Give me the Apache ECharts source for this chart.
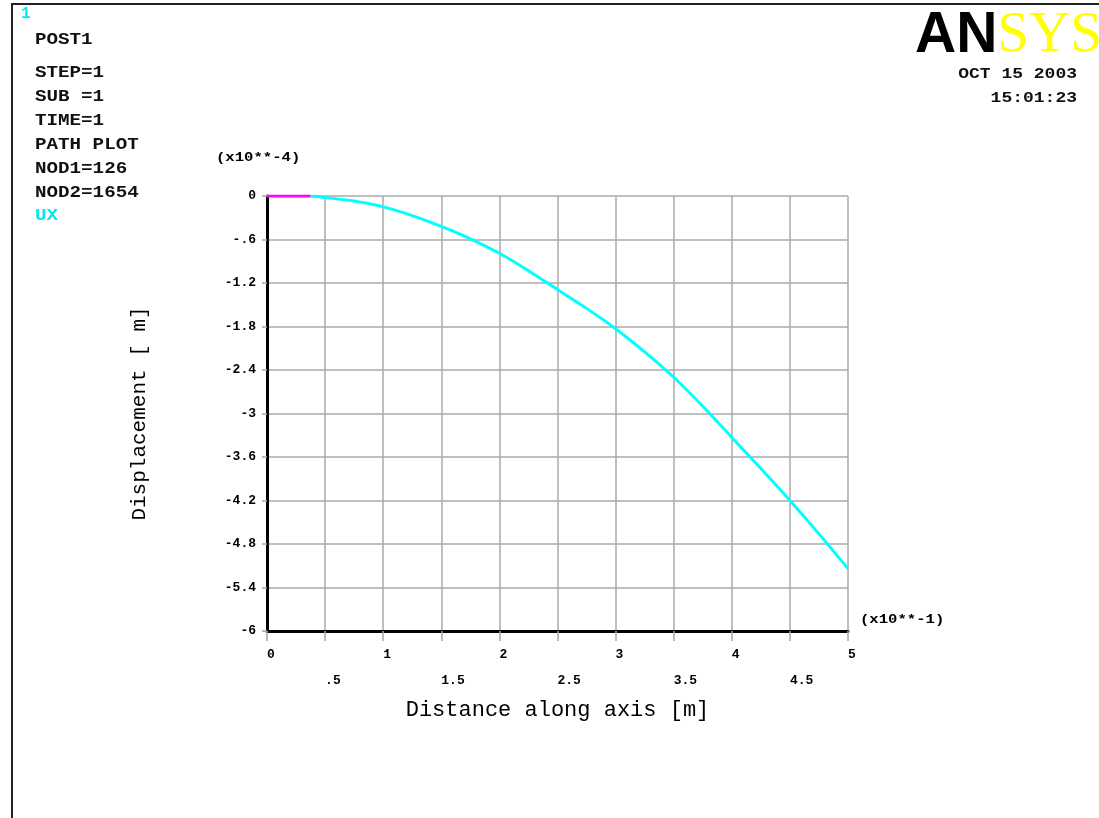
<!DOCTYPE html>
<html>
<head>
<meta charset="utf-8">
<script src="https://cdn.jsdelivr.net/npm/echarts@6/dist/echarts.min.js"></script>
<style>
html,body{margin:0;padding:0;background:#fff;}
#chart{width:1099px;height:818px;}
</style>
</head>
<body>
<div id="chart"></div>
<script>
// ---- data ----
var distance = [0.375, 0.5, 0.75, 1.0, 1.25, 1.5, 1.75, 2.0, 2.25, 2.5, 2.75, 3.0, 3.25, 3.5, 3.75, 4.0, 4.25, 4.5, 4.75, 5.0];
var ux       = [0, -0.02, -0.07, -0.15, -0.27, -0.42, -0.59, -0.79, -1.03, -1.29, -1.55, -1.83, -2.15, -2.50, -2.90, -3.33, -3.76, -4.20, -4.66, -5.14];
var leadDistance = [0, 0.375];
var leadUx = [0, 0];
var xTicks = [0, 0.5, 1, 1.5, 2, 2.5, 3, 3.5, 4, 4.5, 5];
var xTickLabels = ['0', '.5', '1', '1.5', '2', '2.5', '3', '3.5', '4', '4.5', '5'];
var yTicks = [0, -0.6, -1.2, -1.8, -2.4, -3, -3.6, -4.2, -4.8, -5.4, -6];
var yTickLabels = ['0', '-.6', '-1.2', '-1.8', '-2.4', '-3', '-3.6', '-4.2', '-4.8', '-5.4', '-6'];
var infoLines = ['POST1', 'STEP=1', 'SUB =1', 'TIME=1', 'PATH PLOT', 'NOD1=126', 'NOD2=1654'];
var infoY = [40, 73, 97, 121, 145, 169, 193];
var xTitle = 'Distance along axis [m]';
var yTitle = 'Displacement [ m]';
var xUnit = '(x10**-1)';
var yUnit = '(x10**-4)';
var dateLines = ['OCT 15 2003', '15:01:23'];

function pairs(a, b) { return a.map(function (v, i) { return [v, b[i]]; }); }
function lookup(ticks, labels, v) {
  for (var i = 0; i < ticks.length; i++) if (Math.abs(ticks[i] - v) < 1e-6) return labels[i];
  return '';
}

var MONO = '"Liberation Mono", "DejaVu Sans Mono", monospace';
var chart = echarts.init(document.getElementById('chart'), null, {renderer: 'canvas'});

var graphics = [
  {type: 'polyline', shape: {points: [[12, 818], [12, 4], [1099, 4]]}, style: {stroke: '#222', lineWidth: 2, fill: null}, silent: true},
  {type: 'text', x: 21, y: 14, style: {text: '1', font: 'bold 16px ' + MONO, fill: '#00e8f0', verticalAlign: 'middle'}},
  {type: 'text', x: 35, y: 216, scaleX: 1.2, style: {text: 'UX', font: 'bold 16px ' + MONO, fill: '#00e8f0', verticalAlign: 'middle'}},
  {type: 'text', x: 216, y: 158, scaleX: 1.2, style: {text: yUnit, font: 'bold 13px ' + MONO, fill: '#000', verticalAlign: 'middle'}},
  {type: 'text', x: 860, y: 620, scaleX: 1.2, style: {text: xUnit, font: 'bold 13px ' + MONO, fill: '#000', verticalAlign: 'middle'}},
  {type: 'text', x: 915, y: 36, style: {
    text: '{a|AN}{b|SYS}', verticalAlign: 'middle',
    rich: {
      a: {fontFamily: '"Liberation Sans", Arial, sans-serif', fontWeight: 900, fontSize: 57, fill: '#000'},
      b: {fontFamily: '"Liberation Serif", "Times New Roman", serif', fontWeight: 'normal', fontSize: 57, fill: '#ffff00'}
    }
  }}
];
infoLines.forEach(function (t, i) {
  graphics.push({type: 'text', x: 35, y: infoY[i], scaleX: 1.2, style: {text: t, font: 'bold 16px ' + MONO, fill: '#111', verticalAlign: 'middle'}});
});
dateLines.forEach(function (t, i) {
  graphics.push({type: 'text', x: 1077, y: 74 + i * 24, scaleX: 1.2, style: {text: t, font: 'bold 15px ' + MONO, fill: '#111', align: 'right', verticalAlign: 'middle'}});
});

var option = {
  backgroundColor: '#ffffff',
  animation: false,
  grid: {left: 267, top: 196, right: 251, bottom: 187, containLabel: false},
  xAxis: {
    type: 'value', min: 0, max: 5, interval: 0.5,
    name: xTitle, nameLocation: 'middle', nameGap: 61,
    nameTextStyle: {fontFamily: MONO, fontSize: 22, color: '#000', verticalAlign: 'top'},
    axisLine: {onZero: false, lineStyle: {color: '#000', width: 3}},
    axisTick: {show: true, length: 10, lineStyle: {color: '#a8a8a8', width: 1.5}},
    splitLine: {show: true, lineStyle: {color: '#aaaaaa', width: 1.5}},
    axisLabel: {
      margin: 11, fontFamily: MONO, fontWeight: 'bold', fontSize: 13, color: '#000', lineHeight: 26,
      align: 'left',
      formatter: function (v) {
        var t = lookup(xTicks, xTickLabels, v);
        return (Math.abs(v - Math.round(v)) < 1e-6) ? t : '\n' + t;
      }
    }
  },
  yAxis: {
    type: 'value', min: -6, max: 0, interval: 0.6,
    name: yTitle, nameLocation: 'middle', nameGap: 117, nameRotate: 90,
    nameTextStyle: {fontFamily: MONO, fontSize: 21, color: '#000'},
    axisLine: {onZero: false, lineStyle: {color: '#000', width: 3}},
    axisTick: {show: true, length: 5, lineStyle: {color: '#a8a8a8', width: 1.5}},
    splitLine: {show: true, lineStyle: {color: '#aaaaaa', width: 1.5}},
    axisLabel: {
      margin: 11, fontFamily: MONO, fontWeight: 'bold', fontSize: 13, color: '#000',
      padding: [0, 0, 8, 0],
      formatter: function (v) { return lookup(yTicks, yTickLabels, v); }
    }
  },
  series: [
    {type: 'line', name: 'lead', data: pairs(leadDistance, leadUx), showSymbol: false, symbol: 'none',
     lineStyle: {color: '#ff00ff', width: 3}, z: 3},
    {type: 'line', name: 'UX', data: pairs(distance, ux), showSymbol: false, symbol: 'none', smooth: 0.3,
     lineStyle: {color: '#00ffff', width: 3}, z: 3}
  ],
  graphic: graphics
};
chart.setOption(option);
</script>
</body>
</html>
